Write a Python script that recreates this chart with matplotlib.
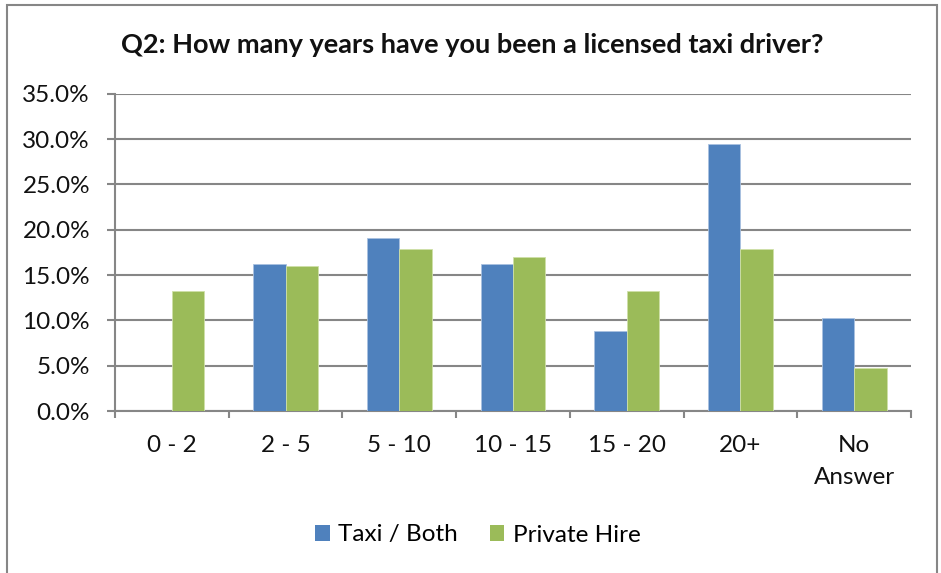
import matplotlib
matplotlib.use("Agg")
import matplotlib.pyplot as plt
from matplotlib.patches import Rectangle, Patch
import numpy as np

plt.rcParams['font.family'] = ['Lato', 'DejaVu Sans']

categories = ["0 - 2", "2 - 5", "5 - 10", "10 - 15", "15 - 20", "20+", "No\nAnswer"]
taxi_both = [0.0, 16.2, 19.1, 16.2, 8.8, 29.4, 10.3]
private_hire = [13.2, 16.0, 17.9, 17.0, 13.2, 17.9, 4.7]
y_ticks = [0, 5, 10, 15, 20, 25, 30, 35]

BLUE = "#4F81BD"
GREEN = "#9BBB59"
GRID = "#868686"

W, H = 941, 573
fig = plt.figure(figsize=(W / 100, H / 100), dpi=100)
fig.patch.set_facecolor("white")

# outer chart frame
fig.add_artist(Rectangle((7 / W, -0.05), (937 - 7) / W, (H - 5) / H + 0.05,
                         transform=fig.transFigure, fill=False,
                         edgecolor=GRID, linewidth=1.5))

ax = fig.add_axes([115 / W, (H - 411) / H, (911 - 115) / W, (411 - 93.7) / H])

x = np.arange(len(categories))
bw = 1 / 3.5
ax.bar(x - bw / 2, taxi_both, width=bw, color=BLUE, edgecolor="#a9c1e0",
       linewidth=0.6, zorder=3, label="Taxi / Both")
ax.bar(x + bw / 2, private_hire, width=bw, color=GREEN, edgecolor="#cfe0a8",
       linewidth=0.6, zorder=3, label="Private Hire")

FS = 17.5
ax.set_xlim(-0.5, len(categories) - 0.5)
ax.set_ylim(0, 35)
ax.set_yticks(y_ticks)
ax.set_yticklabels([f"{v:.1f}%" for v in y_ticks], fontsize=FS, color="#111111")
ax.yaxis.grid(True, color=GRID, linewidth=1.5, zorder=0)
ax.set_axisbelow(True)

ax.set_xticks(x)
ax.set_xticklabels(categories, fontsize=FS, color="#111111", linespacing=1.65)
ax.set_xticks(np.arange(len(categories) + 1) - 0.5, minor=True)
ax.tick_params(axis="x", which="major", length=0, pad=17)
ax.tick_params(axis="x", which="minor", length=5, width=1.5, color=GRID)
ax.tick_params(axis="y", length=6, width=1.5, color=GRID, pad=12)

for s in ["top", "right"]:
    ax.spines[s].set_visible(False)
for s in ["left", "bottom"]:
    ax.spines[s].set_color(GRID)
    ax.spines[s].set_linewidth(1.5)

fig.text(472 / W, (H - 45) / H, "Q2: How many years have you been a licensed taxi driver?",
         ha="center", va="center", fontsize=19.5, fontweight="bold", color="#111111")

handles = [Patch(facecolor=BLUE, label="Taxi / Both"),
           Patch(facecolor=GREEN, label="Private Hire")]
fig.legend(handles=handles, loc="center", bbox_to_anchor=(478 / W, (H - 535) / H),
           ncol=2, frameon=False, fontsize=FS, handlelength=0.6, handleheight=0.6,
           handletextpad=0.35, columnspacing=1.3)

fig.savefig("out.png", dpi=100, facecolor="white")
